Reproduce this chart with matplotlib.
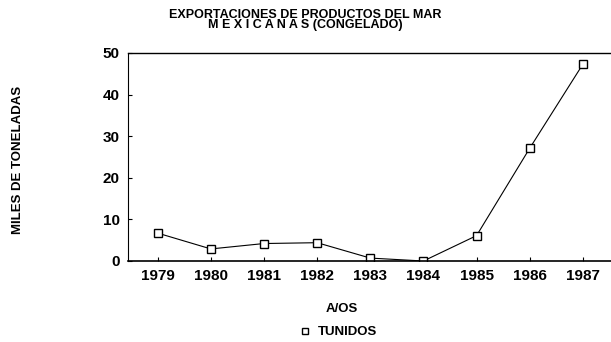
import matplotlib.pyplot as plt
from matplotlib.lines import Line2D

# Exportaciones de tunidos congelados (miles de toneladas)
years = [1979, 1980, 1981, 1982, 1983, 1984, 1985, 1986, 1987]
tunidos = [6.7, 2.9, 4.2, 4.4, 0.7, 0.0, 6.1, 27.1, 47.3]
y_ticks = [0, 10, 20, 30, 40, 50]

plt.rcParams['font.family'] = ['Liberation Sans', 'DejaVu Sans']
plt.rcParams['font.weight'] = 'bold'

fig = plt.figure(figsize=(6.11, 3.42), dpi=100)
ax = fig.add_axes([128 / 611, 1 - 261 / 342, 1 - 128 / 611, 208 / 342])

ax.plot(years, tunidos, color='black', linewidth=0.8, marker='s',
        markersize=6, markerfacecolor='white', markeredgecolor='black',
        markeredgewidth=1.0)

ax.set_xlim(1978.44, 1987.53)
ax.set_ylim(0, 50)
ax.set_xticks(years)
ax.set_yticks(y_ticks)
ax.tick_params(direction='in', length=3, width=0.8, labelsize=11, pad=6)
for lab in ax.get_xticklabels() + ax.get_yticklabels():
    lab.set_fontweight('bold')

ax.spines['right'].set_visible(False)
ax.spines['top'].set_linewidth(1.0)
ax.spines['bottom'].set_linewidth(1.2)
ax.spines['left'].set_linewidth(0.8)
ax.spines['left'].set_linestyle((0, (2, 1)))

fig.text(0.5, 1 - 20 / 342, 'EXPORTACIONES DE PRODUCTOS DEL MAR\nM E X I C A N A S (CONGELADO)',
         ha='center', va='center', fontsize=9, fontweight='bold', linespacing=0.85)
fig.text(18 / 611, 1 - 160 / 342, 'MILES DE TONELADAS', rotation=90,
         ha='center', va='center', fontsize=9.5, fontweight='bold')
fig.text(342 / 611, 1 - 309 / 342, 'A/OS', ha='center', va='center',
         fontsize=9.5, fontweight='bold')

handle = Line2D([], [], linestyle='none', marker='s', markersize=5,
                markerfacecolor='white', markeredgecolor='black', markeredgewidth=1.0)
fig.legend([handle], ['TUNIDOS'], loc='center', bbox_to_anchor=(338 / 611, 1 - 332 / 342),
           frameon=False, prop={'size': 9.5, 'weight': 'bold'}, handlelength=1.0,
           handletextpad=0.5, borderpad=0)

fig.savefig('out.png', dpi=100)
